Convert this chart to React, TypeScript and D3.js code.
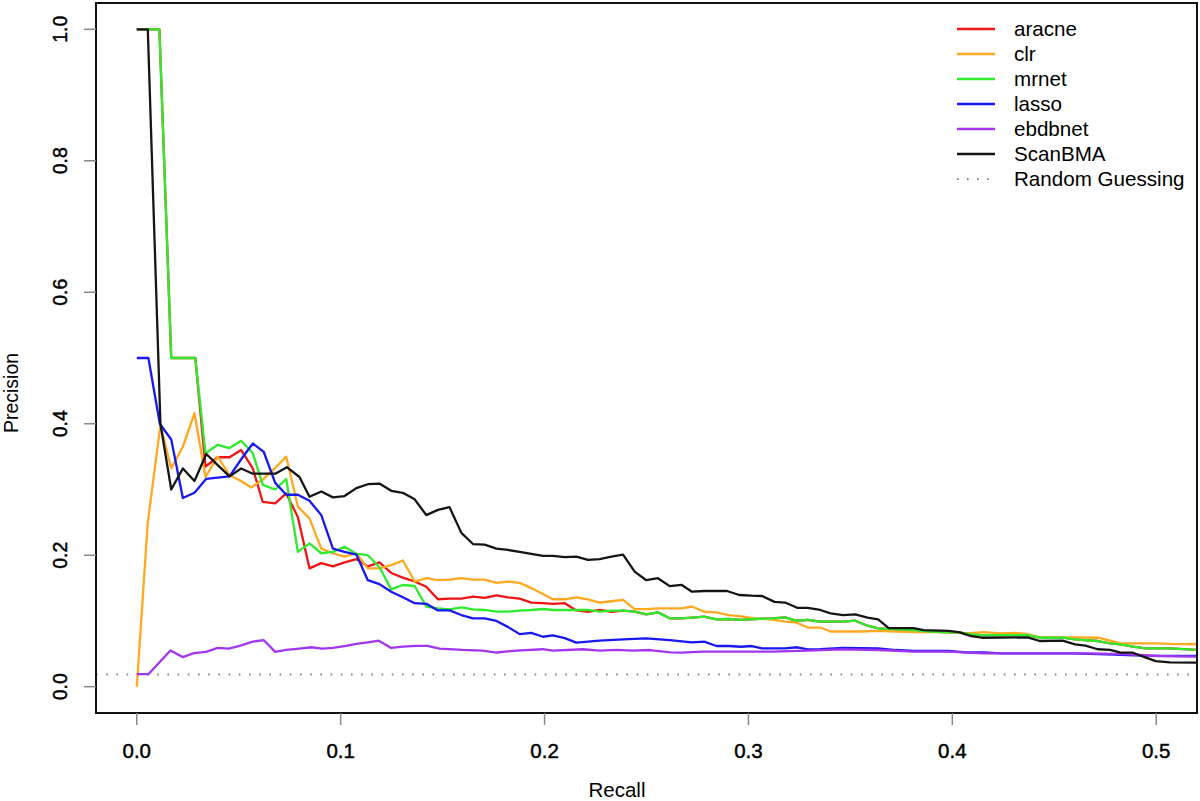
import React from "react";
import * as d3 from "d3";

type Pt = [number, number];

// [recall, precision]
const aracne: Pt[] = [
  [0, 1], [0.0111, 1], [0.0169, 0.5], [0.0287, 0.5], [0.0337, 0.335], [0.0397, 0.349],
  [0.0455, 0.349], [0.0512, 0.36], [0.0569, 0.332], [0.0618, 0.281], [0.0679, 0.279],
  [0.0733, 0.294], [0.079, 0.258], [0.0847, 0.18], [0.0905, 0.188], [0.0962, 0.183],
  [0.1019, 0.189], [0.1077, 0.194], [0.1133, 0.183], [0.119, 0.189], [0.1248, 0.173],
  [0.1305, 0.166], [0.1363, 0.16], [0.142, 0.152], [0.1477, 0.133], [0.1534, 0.134],
  [0.1592, 0.134], [0.1649, 0.137], [0.1706, 0.135], [0.1764, 0.139], [0.182, 0.136],
  [0.1878, 0.134], [0.1935, 0.128], [0.1992, 0.127], [0.2041, 0.126], [0.2099, 0.127],
  [0.2156, 0.116], [0.2213, 0.114], [0.227, 0.117], [0.2328, 0.114], [0.2385, 0.1156],
  [0.2442, 0.1141], [0.2499, 0.1101], [0.2556, 0.1131], [0.2614, 0.104], [0.2671, 0.104],
  [0.2723, 0.105], [0.2783, 0.1065], [0.2843, 0.1025], [0.2903, 0.103], [0.2964, 0.1015],
  [0.3033, 0.103], [0.3119, 0.104], [0.318, 0.1055], [0.3231, 0.1004], [0.3291, 0.1015],
  [0.3352, 0.0989], [0.3464, 0.0989], [0.3524, 0.1004], [0.3584, 0.0928], [0.3636, 0.0888],
  [0.3722, 0.0873], [0.3809, 0.0862], [0.3895, 0.0837], [0.3981, 0.0827], [0.4032, 0.0827],
  [0.4093, 0.0797], [0.4145, 0.0786], [0.4369, 0.0786], [0.4429, 0.0745], [0.4541, 0.0745],
  [0.4602, 0.0721], [0.4713, 0.0695], [0.4774, 0.066], [0.4825, 0.0645], [0.4886, 0.0608],
  [0.4946, 0.0584], [0.5067, 0.0584], [0.5218, 0.0558],
];

const clr: Pt[] = [
  [0, 0], [0.0054, 0.25], [0.0116, 0.398], [0.0169, 0.332], [0.0226, 0.365], [0.0283, 0.416],
  [0.0337, 0.319], [0.0397, 0.35], [0.0455, 0.322], [0.0505, 0.314], [0.0561, 0.303],
  [0.0618, 0.315], [0.0676, 0.332], [0.0733, 0.35], [0.079, 0.274], [0.0847, 0.256],
  [0.0905, 0.21], [0.0962, 0.203], [0.1019, 0.198], [0.1077, 0.203], [0.1133, 0.18],
  [0.119, 0.18], [0.1248, 0.185], [0.1305, 0.192], [0.1363, 0.16], [0.142, 0.165],
  [0.1477, 0.162], [0.1534, 0.163], [0.1592, 0.165], [0.1649, 0.163], [0.1706, 0.163],
  [0.1764, 0.158], [0.182, 0.16], [0.1878, 0.158], [0.1935, 0.15], [0.1992, 0.141],
  [0.2041, 0.133], [0.2099, 0.133], [0.2156, 0.136], [0.2213, 0.133], [0.227, 0.128],
  [0.2328, 0.13], [0.2385, 0.132], [0.2442, 0.118], [0.2499, 0.118], [0.2556, 0.119],
  [0.2614, 0.119], [0.2671, 0.119], [0.2723, 0.122], [0.2783, 0.114], [0.2843, 0.113],
  [0.2903, 0.109], [0.2964, 0.107], [0.3033, 0.104], [0.3119, 0.102], [0.318, 0.099],
  [0.3231, 0.098], [0.3291, 0.09], [0.3352, 0.09], [0.3403, 0.084], [0.3464, 0.084],
  [0.355, 0.084], [0.3636, 0.085], [0.3722, 0.084], [0.3809, 0.083], [0.3895, 0.083],
  [0.3981, 0.083], [0.4067, 0.081], [0.4153, 0.083], [0.4239, 0.081], [0.4309, 0.082],
  [0.4369, 0.08], [0.4429, 0.075], [0.4541, 0.075], [0.4602, 0.075], [0.4713, 0.0745],
  [0.4774, 0.07], [0.4825, 0.066], [0.4886, 0.066], [0.4998, 0.066], [0.5067, 0.065],
  [0.5218, 0.0645],
];

const mrnet: Pt[] = [
  [0, 1], [0.0111, 1], [0.0169, 0.5], [0.0287, 0.5], [0.0337, 0.355], [0.0397, 0.368],
  [0.0455, 0.363], [0.0512, 0.374], [0.0569, 0.355], [0.0618, 0.307], [0.0679, 0.3],
  [0.0733, 0.316], [0.079, 0.205], [0.0847, 0.218], [0.0905, 0.203], [0.0962, 0.205],
  [0.1019, 0.213], [0.1077, 0.202], [0.1133, 0.2], [0.119, 0.182], [0.1248, 0.148],
  [0.1305, 0.1547], [0.1363, 0.1532], [0.142, 0.1217], [0.1477, 0.1192], [0.1534, 0.1177],
  [0.1592, 0.1207], [0.1649, 0.1177], [0.1706, 0.1167], [0.1764, 0.1141], [0.182, 0.1141],
  [0.1878, 0.1156], [0.1935, 0.1167], [0.1992, 0.1182], [0.2041, 0.1167], [0.2099, 0.1167],
  [0.2156, 0.1167], [0.2213, 0.1167], [0.227, 0.1141], [0.2328, 0.1156], [0.2385, 0.1156],
  [0.2442, 0.1141], [0.2499, 0.1101], [0.2556, 0.1131], [0.2614, 0.104], [0.2671, 0.104],
  [0.2723, 0.105], [0.2783, 0.1065], [0.2843, 0.1025], [0.2903, 0.103], [0.2964, 0.1015],
  [0.3033, 0.103], [0.3119, 0.104], [0.318, 0.1055], [0.3231, 0.1004], [0.3291, 0.1015],
  [0.3352, 0.0989], [0.3464, 0.0989], [0.3524, 0.1004], [0.3584, 0.0928], [0.3636, 0.0888],
  [0.3722, 0.0873], [0.3809, 0.0862], [0.3895, 0.0837], [0.3981, 0.0827], [0.4032, 0.0827],
  [0.4093, 0.0797], [0.4145, 0.0786], [0.4369, 0.0786], [0.4429, 0.0745], [0.4541, 0.0745],
  [0.4602, 0.0721], [0.4713, 0.0695], [0.4774, 0.066], [0.4825, 0.0645], [0.4886, 0.0608],
  [0.4946, 0.0584], [0.5067, 0.0584], [0.5218, 0.0558],
];

const lasso: Pt[] = [
  [0, 0.5], [0.0057, 0.5], [0.0113, 0.4], [0.0169, 0.376], [0.0226, 0.287], [0.0283, 0.295],
  [0.034, 0.316], [0.0397, 0.318], [0.0455, 0.32], [0.0512, 0.346], [0.0569, 0.37],
  [0.0623, 0.357], [0.0679, 0.31], [0.0733, 0.292], [0.079, 0.292], [0.0847, 0.283],
  [0.0905, 0.261], [0.0962, 0.21], [0.1019, 0.205], [0.1077, 0.201], [0.1133, 0.162],
  [0.119, 0.156], [0.1248, 0.1445], [0.1305, 0.136], [0.1363, 0.127], [0.142, 0.126],
  [0.1477, 0.116], [0.1534, 0.116], [0.1592, 0.109], [0.1649, 0.104], [0.1706, 0.104],
  [0.1764, 0.1], [0.182, 0.091], [0.1878, 0.08], [0.1935, 0.082], [0.1992, 0.076],
  [0.2041, 0.078], [0.2099, 0.074], [0.2156, 0.067], [0.2213, 0.0685], [0.227, 0.07],
  [0.2385, 0.072], [0.2499, 0.0736], [0.2614, 0.071], [0.2723, 0.0675], [0.2783, 0.0685],
  [0.2843, 0.0619], [0.2903, 0.0619], [0.2964, 0.0608], [0.3016, 0.0619], [0.3067, 0.0584],
  [0.318, 0.0584], [0.3239, 0.06], [0.3291, 0.0569], [0.3352, 0.0573], [0.3464, 0.0589],
  [0.3636, 0.0584], [0.3722, 0.0558], [0.3809, 0.0543], [0.3981, 0.0543], [0.4067, 0.0523],
  [0.4153, 0.0523], [0.4239, 0.0508], [0.4412, 0.0508], [0.4584, 0.0508], [0.4757, 0.0492],
  [0.4929, 0.0472], [0.5218, 0.0467],
];

const ebdbnet: Pt[] = [
  [0, 0.019], [0.0057, 0.019], [0.0165, 0.055], [0.0226, 0.045], [0.028, 0.051],
  [0.034, 0.053], [0.0397, 0.059], [0.0451, 0.058], [0.0504, 0.062], [0.0569, 0.0685],
  [0.0622, 0.071], [0.0679, 0.053], [0.0733, 0.056], [0.0798, 0.058], [0.0856, 0.06],
  [0.091, 0.058], [0.0962, 0.059], [0.1027, 0.062], [0.1077, 0.065], [0.1133, 0.0675],
  [0.1187, 0.07], [0.1248, 0.0589], [0.1305, 0.061], [0.137, 0.062], [0.1426, 0.062],
  [0.1485, 0.058], [0.1598, 0.056], [0.1696, 0.055], [0.1765, 0.052], [0.1863, 0.055],
  [0.199, 0.057], [0.204, 0.055], [0.2187, 0.057], [0.227, 0.055], [0.2354, 0.056],
  [0.2432, 0.055], [0.2516, 0.0558], [0.2618, 0.0523], [0.2671, 0.0517], [0.2775, 0.0533],
  [0.2947, 0.0533], [0.3119, 0.0533], [0.3291, 0.0548], [0.3464, 0.0568], [0.3636, 0.0558],
  [0.3809, 0.0533], [0.3981, 0.0533], [0.4153, 0.0508], [0.4412, 0.0508], [0.467, 0.0508],
  [0.4843, 0.0497], [0.5015, 0.0467], [0.5218, 0.0456],
];

const scanBMA: Pt[] = [
  [0, 1], [0.0054, 1], [0.0116, 0.4], [0.0169, 0.3], [0.0226, 0.332], [0.0283, 0.313],
  [0.0341, 0.354], [0.0397, 0.337], [0.0455, 0.32], [0.0512, 0.332], [0.0569, 0.324],
  [0.0627, 0.324], [0.0679, 0.324], [0.0736, 0.334], [0.0798, 0.319], [0.0847, 0.289],
  [0.0905, 0.297], [0.0962, 0.288], [0.1019, 0.29], [0.1077, 0.302], [0.1133, 0.308],
  [0.119, 0.309], [0.1248, 0.298], [0.1305, 0.295], [0.1363, 0.285], [0.142, 0.261],
  [0.1477, 0.269], [0.1534, 0.273], [0.1592, 0.234], [0.1649, 0.217], [0.1706, 0.216],
  [0.1764, 0.21], [0.182, 0.208], [0.1878, 0.205], [0.1935, 0.202], [0.1992, 0.199],
  [0.2041, 0.199], [0.2099, 0.197], [0.2156, 0.198], [0.2213, 0.193], [0.227, 0.194],
  [0.2328, 0.198], [0.2385, 0.201], [0.2442, 0.175], [0.2499, 0.162], [0.2556, 0.165],
  [0.2614, 0.153], [0.2671, 0.155], [0.2723, 0.1445], [0.2783, 0.1456], [0.2895, 0.1456],
  [0.2955, 0.1395], [0.3016, 0.1384], [0.3067, 0.138], [0.3128, 0.129], [0.318, 0.128],
  [0.3239, 0.12], [0.3291, 0.12], [0.3352, 0.1167], [0.3403, 0.1116], [0.3464, 0.109],
  [0.3524, 0.11], [0.3584, 0.105], [0.3636, 0.1025], [0.3688, 0.089], [0.3809, 0.089],
  [0.386, 0.086], [0.3981, 0.085], [0.4032, 0.083], [0.4093, 0.077], [0.4145, 0.0745],
  [0.4369, 0.075], [0.4429, 0.0695], [0.4541, 0.07], [0.4602, 0.0645], [0.4653, 0.0624],
  [0.4713, 0.057], [0.4774, 0.056], [0.4825, 0.0517], [0.4886, 0.0517], [0.4946, 0.0447],
  [0.4998, 0.039], [0.5067, 0.037], [0.5218, 0.0365],
];

const randomGuess = 0.0185;

const seriesNames = ["aracne", "clr", "mrnet", "lasso", "ebdbnet", "ScanBMA"];
const seriesData = [aracne, clr, mrnet, lasso, ebdbnet, scanBMA];
const seriesColors = ["#F01414", "#FFA820", "#2EEB2E", "#1818F0", "#A236EE", "#151515"];
const randomLabel = "Random Guessing";

const xTicks = [0, 0.1, 0.2, 0.3, 0.4, 0.5];
const yTicks = [0, 0.2, 0.4, 0.6, 0.8, 1.0];

const W = 1200;
const H = 801;
const L = 96, R = 1197, T = 3, B = 713;
const FONT = "'Liberation Sans', Arial, Helvetica, sans-serif";

export default function App() {
  const x = d3.scaleLinear().domain([-0.02, 0.52]).range([L, R]);
  const y = d3.scaleLinear().domain([-0.04, 1.04]).range([B, T]);
  const line = d3.line<Pt>().x((d) => x(d[0])).y((d) => y(d[1]));

  return (
    <div style={{ position: "absolute", left: 0, top: 0 }}>
      <svg width={W} height={H} style={{ display: "block", background: "#fff" }}>
        <defs>
          <clipPath id="plotclip">
            <rect x={L} y={T} width={R - L} height={B - T} />
          </clipPath>
        </defs>
        <rect x={0} y={0} width={W} height={H} fill="#fff" />
        <g clipPath="url(#plotclip)">
          <line
            x1={L}
            x2={R}
            y1={y(randomGuess)}
            y2={y(randomGuess)}
            stroke="#888"
            strokeWidth={2}
            strokeDasharray="1.6 8.6"
          />
          {seriesData.map((s, i) => (
            <path
              key={seriesNames[i]}
              d={line(s) || ""}
              fill="none"
              stroke={seriesColors[i]}
              strokeWidth={2.3}
              strokeLinejoin="round"
            />
          ))}
        </g>
        <rect x={L} y={T} width={R - L} height={B - T} fill="none" stroke="#111" strokeWidth={2} />
        {xTicks.map((t) => (
          <g key={"x" + t}>
            <line x1={x(t)} x2={x(t)} y1={B} y2={B + 12} stroke="#888" strokeWidth={1.5} />
            <text x={x(t)} y={758} textAnchor="middle" fontFamily={FONT} fontSize={20.5}
              fill="#000" stroke="#000" strokeWidth={0.45}>
              {t.toFixed(1)}
            </text>
          </g>
        ))}
        {yTicks.map((t) => (
          <g key={"y" + t}>
            <line x1={L - 12} x2={L} y1={y(t)} y2={y(t)} stroke="#888" strokeWidth={1.5} />
            <text
              transform={`translate(67,${y(t)}) rotate(-90)`}
              textAnchor="middle"
              fontFamily={FONT}
              fontSize={19.5}
              fill="#000"
              stroke="#000"
              strokeWidth={0.45}
            >
              {t.toFixed(1)}
            </text>
          </g>
        ))}
        <text x={617} y={797} textAnchor="middle" fontFamily={FONT} fontSize={20.5} fill="#000">
          Recall
        </text>
        <text
          transform={`translate(18,393) rotate(-90)`}
          textAnchor="middle"
          fontFamily={FONT}
          fontSize={19.5}
          fill="#000"
        >
          Precision
        </text>
        <g>
          {seriesNames.map((n, i) => (
            <g key={"lg" + n}>
              <line x1={957} x2={995} y1={29 + 25 * i} y2={29 + 25 * i} stroke={seriesColors[i]} strokeWidth={2.3} />
              <text x={1014} y={36 + 25 * i} fontFamily={FONT} fontSize={20.6} fill="#000">
                {n}
              </text>
            </g>
          ))}
          <line
            x1={957}
            x2={995}
            y1={29 + 25 * 6}
            y2={29 + 25 * 6}
            stroke="#888"
            strokeWidth={2}
            strokeDasharray="1.6 8.4"
          />
          <text x={1014} y={36 + 25 * 6} fontFamily={FONT} fontSize={20.6} fill="#000">
            {randomLabel}
          </text>
        </g>
      </svg>
    </div>
  );
}
